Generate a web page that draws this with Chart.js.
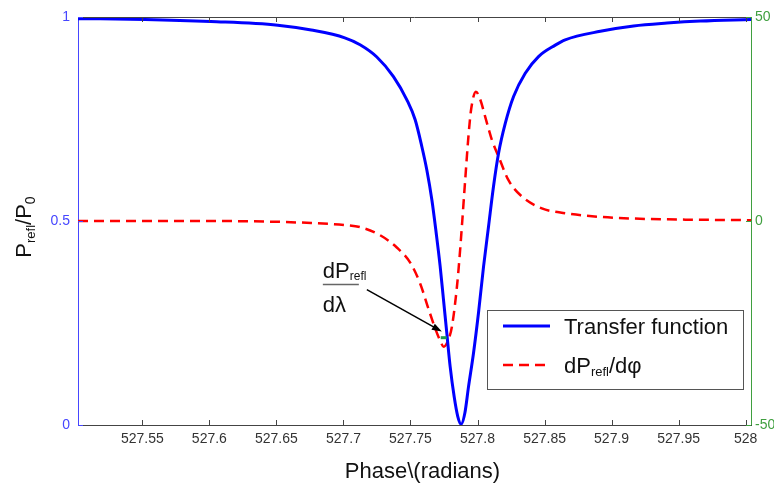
<!DOCTYPE html>
<html>
<head>
<meta charset="utf-8">
<script src="https://cdn.jsdelivr.net/npm/chart.js@4.4.1/dist/chart.umd.min.js"></script>
<style>
  html, body { margin: 0; padding: 0; background: #fff; }
  #wrap { width: 774px; height: 486px; }
</style>
</head>
<body>
<div id="wrap"><canvas id="chart" width="774" height="486"></canvas></div>
<script>
// values
const phaseBlue = [527.502, 527.552, 527.601, 527.651, 527.676, 527.701, 527.7124, 527.7249, 527.7373, 527.7473,
  527.7535, 527.7585, 527.7622, 527.766, 527.7692, 527.7721, 527.7746, 527.7771, 527.7796, 527.7826,
  527.7852, 527.7878, 527.7906, 527.7933, 527.797, 527.8007, 527.8045, 527.8082, 527.8119, 527.8157,
  527.8207, 527.8269, 527.8356, 527.8455, 527.858, 527.8654, 527.8916, 527.9164, 527.9413, 527.9662,
  528.004];
const transfer = [0.996, 0.994, 0.989, 0.980, 0.968, 0.949, 0.932, 0.902, 0.854, 0.797,
  0.748, 0.682, 0.625, 0.551, 0.470, 0.390, 0.308, 0.225, 0.143, 0.069,
  0.022, 0.002, 0.030, 0.094, 0.176, 0.274, 0.388, 0.486, 0.584, 0.666,
  0.739, 0.805, 0.862, 0.903, 0.931, 0.944, 0.965, 0.978, 0.985, 0.990,
  0.994];

const phaseRed = [527.502, 527.601, 527.651, 527.676, 527.701, 527.7124, 527.7274, 527.7398, 527.7498, 527.7572,
  527.7634, 527.7684, 527.7721, 527.7748, 527.7776, 527.7809, 527.7846, 527.7867, 527.7883, 527.7908,
  527.7933, 527.7953, 527.7988, 527.802, 527.8057, 527.8107, 527.8157, 527.8231, 527.8331, 527.848,
  527.8654, 527.8916, 527.9164, 527.9413, 528.004];
const derivative = [0, 0, -0.2, -0.5, -1.0, -1.5, -3.5, -6.5, -10.2, -15.3,
  -21.5, -26.3, -29.3, -30.8, -29.6, -25.9, -16.3, -8.5, -1.5, 10.0,
  21.0, 27.5, 31.7, 29.8, 25.6, 19.9, 15.8, 10.0, 6.0, 3.1,
  1.9, 1.0, 0.6, 0.4, 0.2];

const xTicks = [527.55, 527.6, 527.65, 527.7, 527.75, 527.8, 527.85, 527.9, 527.95, 528];
const leftTicks = [0, 0.5, 1];
const rightTicks = [-50, 0, 50];

// arrow tip and datatip marker (phase, dP/dphi)
const noteTip = [527.7734, -27.1];
const noteMarker = [527.7748, -28.6];

const FONT = "'Liberation Sans', Arial, Helvetica, sans-serif";
const BLUE = '#0000ff';
const RED = '#ff0000';
const LEFT_AXIS = '#4646ff';
const RIGHT_AXIS = '#3f9f3f';

// draws text made of pieces with different sizes / vertical shifts
function drawRich(ctx, parts, x, y, measureOnly) {
  let w = 0;
  parts.forEach(p => {
    ctx.font = p.size + 'px ' + FONT;
    if (!measureOnly) ctx.fillText(p.t, x + w, y + (p.dy || 0));
    w += ctx.measureText(p.t).width;
  });
  return w;
}

const decorations = {
  id: 'decorations',
  afterDraw(chart) {
    const { ctx, chartArea: a, scales } = chart;
    const xs = scales.x, yl = scales.y, yr = scales.y1;
    ctx.save();

    // top border
    ctx.strokeStyle = '#444';
    ctx.lineWidth = 1;
    ctx.beginPath();
    ctx.moveTo(a.left, a.top + 0.5);
    ctx.lineTo(a.right, a.top + 0.5);
    ctx.stroke();

    // right axis line
    ctx.strokeStyle = RIGHT_AXIS;
    ctx.beginPath();
    ctx.moveTo(Math.round(a.right) + 0.5, a.top);
    ctx.lineTo(Math.round(a.right) + 0.5, a.bottom);
    ctx.stroke();

    // inward tick marks
    ctx.strokeStyle = '#444';
    xTicks.forEach(v => {
      const px = Math.round(xs.getPixelForValue(v)) + 0.5;
      ctx.beginPath();
      ctx.moveTo(px, a.bottom); ctx.lineTo(px, a.bottom - 5);
      ctx.moveTo(px, a.top); ctx.lineTo(px, a.top + 5);
      ctx.stroke();
    });
    ctx.strokeStyle = LEFT_AXIS;
    leftTicks.forEach(v => {
      const py = Math.round(yl.getPixelForValue(v)) + 0.5;
      ctx.beginPath();
      ctx.moveTo(a.left, py); ctx.lineTo(a.left + 5, py);
      ctx.moveTo(a.right, py); ctx.lineTo(a.right - 5, py);
      ctx.stroke();
    });
    ctx.strokeStyle = RIGHT_AXIS;
    rightTicks.forEach(v => {
      const py = Math.round(yr.getPixelForValue(v)) + 0.5;
      ctx.beginPath();
      ctx.moveTo(a.right, py); ctx.lineTo(a.right - 5, py);
      ctx.stroke();
    });

    // axis titles
    ctx.fillStyle = '#111';
    ctx.textBaseline = 'alphabetic';
    ctx.font = '22px ' + FONT;
    ctx.textAlign = 'center';
    ctx.fillText('Phase\\(radians)', (a.left + a.right) / 2 + 8, 478);
    ctx.textAlign = 'left';

    const yTitle = [
      { t: 'P', size: 22 }, { t: 'refl', size: 13, dy: 4 },
      { t: '/P', size: 22 }, { t: '0', size: 14, dy: 4 }
    ];
    ctx.save();
    ctx.translate(31, (a.top + a.bottom) / 2 + 6);
    ctx.rotate(-Math.PI / 2);
    const tw = drawRich(ctx, yTitle, 0, 0, true);
    drawRich(ctx, yTitle, -tw / 2, 0);
    ctx.restore();

    // annotation dP_refl / d lambda with arrow
    const tx = xs.getPixelForValue(noteTip[0]);
    const ty = yr.getPixelForValue(noteTip[1]);
    const fx = tx - 119, fy = ty - 47;
    ctx.fillStyle = '#111';
    drawRich(ctx, [{ t: 'dP', size: 22 }, { t: 'refl', size: 12, dy: 2 }], fx, fy - 7);
    ctx.strokeStyle = '#666';
    ctx.lineWidth = 1.5;
    ctx.beginPath();
    ctx.moveTo(fx, fy); ctx.lineTo(fx + 36, fy);
    ctx.stroke();
    ctx.font = '22px ' + FONT;
    ctx.fillText('d\u03bb', fx, fy + 27);

    const sx = tx - 75, sy = ty - 42;
    const ang = Math.atan2(ty - sy, tx - sx);
    ctx.strokeStyle = '#000';
    ctx.fillStyle = '#000';
    ctx.lineWidth = 1.5;
    ctx.beginPath();
    ctx.moveTo(sx, sy);
    ctx.lineTo(tx - 8 * Math.cos(ang), ty - 8 * Math.sin(ang));
    ctx.stroke();
    ctx.beginPath();
    ctx.moveTo(tx, ty);
    ctx.lineTo(tx - 10 * Math.cos(ang) + 3.5 * Math.sin(ang), ty - 10 * Math.sin(ang) - 3.5 * Math.cos(ang));
    ctx.lineTo(tx - 10 * Math.cos(ang) - 3.5 * Math.sin(ang), ty - 10 * Math.sin(ang) + 3.5 * Math.cos(ang));
    ctx.closePath();
    ctx.fill();

    const mx = xs.getPixelForValue(noteMarker[0]);
    const my = yr.getPixelForValue(noteMarker[1]);
    ctx.fillStyle = '#1a9a50';
    ctx.fillRect(mx - 3, my - 1.5, 6, 3);

    // legend box
    const lx = 487, ly = 310, lw = 256, lh = 79;
    ctx.fillStyle = '#fff';
    ctx.fillRect(lx, ly, lw, lh);
    ctx.strokeStyle = '#555';
    ctx.lineWidth = 1;
    ctx.strokeRect(lx + 0.5, ly + 0.5, lw, lh);

    const ds = chart.data.datasets;
    const rows = [
      { y: ly + 16, parts: [{ t: 'Transfer function', size: 22 }], d: ds[0] },
      { y: ly + 55, parts: [{ t: 'dP', size: 22 }, { t: 'refl', size: 13, dy: 3 }, { t: '/d\u03c6', size: 22 }], d: ds[1] }
    ];
    rows.forEach(r => {
      ctx.strokeStyle = r.d.borderColor;
      ctx.lineWidth = r.d.borderWidth;
      ctx.setLineDash(r.d.borderDash || []);
      ctx.beginPath();
      ctx.moveTo(lx + 16, r.y); ctx.lineTo(lx + 63, r.y);
      ctx.stroke();
      ctx.setLineDash([]);
      ctx.fillStyle = '#111';
      drawRich(ctx, r.parts, lx + 77, r.y + 8);
    });

    ctx.restore();
  }
};

const tickFont = { family: FONT, size: 14 };

new Chart(document.getElementById('chart'), {
  type: 'line',
  data: {
    datasets: [
      {
        label: 'Transfer function',
        data: phaseBlue.map((x, i) => ({ x: x, y: transfer[i] })),
        yAxisID: 'y',
        borderColor: BLUE,
        borderWidth: 3,
        pointRadius: 0,
        cubicInterpolationMode: 'monotone',
        fill: false,
        order: 1
      },
      {
        label: 'dP/dphi',
        data: phaseRed.map((x, i) => ({ x: x, y: derivative[i] })),
        yAxisID: 'y1',
        borderColor: RED,
        borderWidth: 2.5,
        borderDash: [10, 6],
        pointRadius: 0,
        cubicInterpolationMode: 'monotone',
        fill: false,
        order: 2
      }
    ]
  },
  options: {
    responsive: false,
    devicePixelRatio: 1,
    animation: false,
    layout: { padding: { top: 17, left: 0, right: 0, bottom: 0 } },
    plugins: { legend: { display: false }, tooltip: { enabled: false } },
    scales: {
      x: {
        type: 'linear',
        min: 527.502,
        max: 528.004,
        afterBuildTicks: s => { s.ticks = xTicks.map(v => ({ value: v })); },
        afterFit: s => { s.height = 61; },
        ticks: {
          font: tickFont, color: '#333', padding: 6, maxRotation: 0, autoSkip: false,
          callback: v => String(+v.toFixed(2))
        },
        grid: { display: false, drawTicks: false },
        border: { display: true, color: '#444', width: 1 }
      },
      y: {
        position: 'left',
        min: 0,
        max: 1,
        afterBuildTicks: s => { s.ticks = leftTicks.map(v => ({ value: v })); },
        afterFit: s => { s.width = 78; },
        ticks: { font: tickFont, color: LEFT_AXIS, padding: 8, callback: v => String(v) },
        grid: { display: false, drawTicks: false },
        border: { display: true, color: LEFT_AXIS, width: 1 }
      },
      y1: {
        position: 'right',
        min: -50,
        max: 50,
        afterBuildTicks: s => { s.ticks = rightTicks.map(v => ({ value: v })); },
        afterFit: s => { s.width = 23; },
        ticks: { font: tickFont, color: RIGHT_AXIS, padding: 4, callback: v => String(v) },
        grid: { display: false, drawTicks: false },
        border: { display: false }
      }
    }
  },
  plugins: [decorations]
});
</script>
</body>
</html>
